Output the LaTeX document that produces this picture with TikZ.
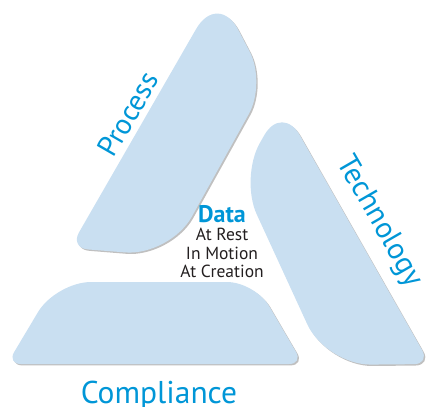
\documentclass[tikz,border=0pt]{standalone}
\usepackage{fontspec}
\setmainfont{PT Sans}
\usetikzlibrary{shadows}
\definecolor{panelblue}{RGB}{201,223,241}
\definecolor{labelblue}{RGB}{0,150,215}
\definecolor{textgrey}{RGB}{35,31,32}
\tikzset{
  panel/.style={fill=panelblue,drop shadow={shadow xshift=1.4pt,shadow yshift=-1.4pt,opacity=.45,fill=black!55}},
  side/.style={text=labelblue,inner sep=0pt,font=\fontsize{29}{33}\selectfont},
  state/.style={text=textgrey,inner sep=0pt,anchor=base,font=\fontsize{17.5}{20}\selectfont},
}

\begin{document}
\begin{tikzpicture}[x=1pt,y=-1pt]
      \useasboundingbox (0,0) rectangle (427,406);

      % process panel
      \coordinate (P1) at (218,-9);
      \coordinate (P2) at (266,83);
      \coordinate (P3) at (170,256);
      \coordinate (P4) at (70,248);
      \fill[panel] (P1) [rounded corners=35pt] -- (P2) [rounded corners=45pt] -- (P3) [rounded corners=18pt] -- (P4) [rounded corners=44pt] -- cycle;

      % technology panel
      \coordinate (T1) at (282,104);
      \coordinate (T2) at (240,178);
      \coordinate (T3) at (326,365);
      \coordinate (T4) at (430,364);
      \fill[panel] (T1) [rounded corners=40pt] -- (T2) [rounded corners=45pt] -- (T3) [rounded corners=16pt] -- (T4) [rounded corners=36pt] -- cycle;

      % compliance panel
      \coordinate (C1) at (56,282);
      \coordinate (C2) at (255,282);
      \coordinate (C3) at (303,364);
      \coordinate (C4) at (7,364);
      \fill[panel] (C1) [rounded corners=28pt] -- (C2) [rounded corners=14pt] -- (C3) [rounded corners=14pt] -- (C4) [rounded corners=35pt] -- cycle;

      \node[side,rotate=60] (process) at (128,114) {Process};
      \node[side,rotate=-60,font=\fontsize{30}{34}\selectfont] (technology) at (379,222) {Technology};
      \node[side,anchor=base,font=\fontsize{31.5}{36}\selectfont] (compliance) at (159,403) {Compliance};

      \node[anchor=base,inner sep=0pt,text=labelblue,font=\fontsize{24}{28}\selectfont\bfseries] (data) at (222,222) {Data};
      \node[state] (rest) at (222,240.7) {At Rest};
      \node[state] (motion) at (222,259) {In Motion};
      \node[state] (creation) at (222,277.7) {At Creation};
    \end{tikzpicture}
\end{document}
